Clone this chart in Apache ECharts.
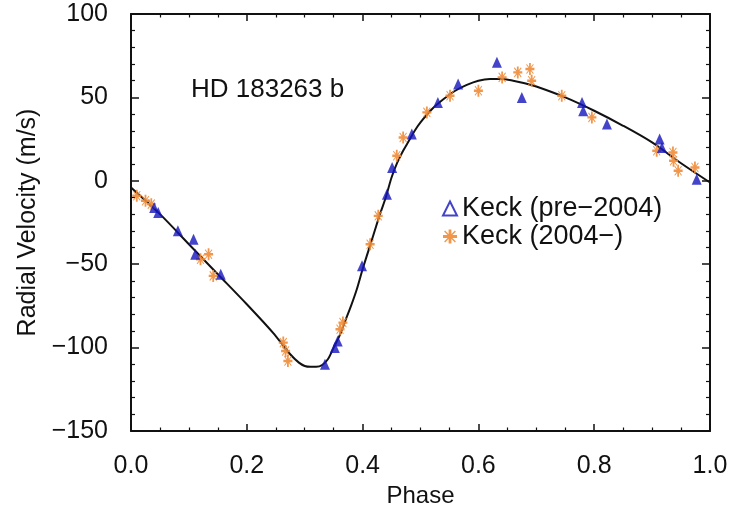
<!DOCTYPE html>
<html>
<head>
<meta charset="utf-8">
<script src="https://cdn.jsdelivr.net/npm/echarts@6/dist/echarts.min.js"></script>
<style>
  html, body { margin: 0; padding: 0; background: #fff; }
  #chart { width: 733px; height: 509px; }
</style>
</head>
<body>
<div id="chart"></div>
<script>
// Radial velocity of HD 183263 folded on the orbital period
const planetName = 'HD 183263 b';
const seriesPre = 'Keck (pre\u22122004)';
const seriesPost = 'Keck (2004\u2212)';

// Keck data before 2004: [phase, velocity m/s]
const keckPre = [
  [0.040, -16], [0.047, -19], [0.081, -30], [0.108, -35], [0.111, -44], [0.155, -56],
  [0.335, -110], [0.352, -100], [0.357, -96], [0.399, -51], [0.442, -8], [0.451, 8],
  [0.485, 28], [0.530, 47], [0.565, 58], [0.632, 71], [0.675, 50],
  [0.779, 47], [0.781, 42], [0.822, 34], [0.913, 25], [0.917, 20], [0.977, 1]
];

// Keck data from 2004 on: [phase, velocity m/s]
const keckPost = [
  [0.010, -9], [0.025, -12], [0.035, -14], [0.120, -47], [0.134, -44], [0.142, -57],
  [0.263, -97], [0.267, -102], [0.271, -108], [0.361, -89], [0.366, -85],
  [0.413, -38], [0.427, -21], [0.459, 15], [0.470, 26], [0.511, 41], [0.551, 51],
  [0.600, 54], [0.641, 62], [0.668, 65], [0.689, 67], [0.692, 60],
  [0.744, 51], [0.796, 38], [0.908, 18], [0.936, 17], [0.937, 12], [0.945, 6], [0.974, 8]
];

// Orbit fit curve: [phase, velocity m/s]
const fitCurve = [
  [0.00, -4], [0.05, -20], [0.10, -38], [0.15, -56], [0.20, -74], [0.245, -91],
  [0.275, -104], [0.29, -109], [0.30, -111], [0.31, -111.5], [0.32, -111.5],
  [0.33, -110.5], [0.34, -107], [0.35, -100], [0.36, -93], [0.37, -84], [0.38, -75],
  [0.39, -65], [0.40, -53], [0.41, -42], [0.42, -31], [0.43, -20], [0.44, -10],
  [0.45, 2], [0.46, 11], [0.47, 18], [0.48, 24], [0.49, 30], [0.50, 35], [0.52, 43],
  [0.54, 49], [0.56, 54], [0.58, 57.5], [0.60, 60], [0.62, 61], [0.64, 61],
  [0.66, 60], [0.68, 58.5], [0.70, 56.5], [0.75, 50], [0.80, 42], [0.85, 33],
  [0.90, 23], [0.95, 10.5], [1.00, -1]
];

// Axis ticks
const xTicks = [0, 0.2, 0.4, 0.6, 0.8, 1.0];
const yTicks = [-150, -100, -50, 0, 50, 100];

const blue = '#1515bd';
const orange = '#f08c38';
const fontFam = '"Liberation Sans", Arial, Helvetica, sans-serif';

// filled eight-spoke asterisk
const asteriskPath = 'path://M4,0L6,0L6,10L4,10Z M0,4L10,4L10,6L0,6Z ' +
  'M1.5,0.8L9.2,8.5L8.5,9.2L0.8,1.5Z M8.5,0.8L9.2,1.5L1.5,9.2L0.8,8.5Z';

const chart = echarts.init(document.getElementById('chart'), null, { renderer: 'canvas' });

const axisLine = { show: true, onZero: false, lineStyle: { color: '#111', width: 2 } };
const minus = s => String(s).replace('-', '\u2212');

const xBase = {
  type: 'value', min: xTicks[0], max: xTicks[xTicks.length - 1],
  interval: xTicks[1] - xTicks[0], splitLine: { show: false },
  axisLine: axisLine,
  axisTick: { show: true, inside: true, length: 7, lineStyle: { color: '#111', width: 1.5 } },
  minorTick: { show: true, splitNumber: 4, length: 3.5, lineStyle: { color: '#111', width: 1.2 } }
};
const yBase = {
  type: 'value', min: yTicks[0], max: yTicks[yTicks.length - 1],
  interval: yTicks[1] - yTicks[0], splitLine: { show: false },
  axisLine: axisLine,
  axisTick: { show: true, inside: true, length: 8, lineStyle: { color: '#111', width: 1.5 } },
  minorTick: { show: true, splitNumber: 5, length: 4, lineStyle: { color: '#111', width: 1.2 } }
};

chart.setOption({
  animation: false,
  backgroundColor: '#fff',
  title: {
    text: planetName, left: 186, top: 72,
    textStyle: { fontFamily: fontFam, fontSize: 26, fontWeight: 'normal', color: '#111' }
  },
  legend: {
    orient: 'vertical', left: 437, top: 190, itemGap: 1, itemWidth: 14, itemHeight: 14,
    textStyle: { fontFamily: fontFam, fontSize: 27, color: '#111', padding: [0, 0, 0, 0] },
    data: [
      { name: seriesPre, icon: 'triangle',
        itemStyle: { color: 'rgba(0,0,0,0)', borderColor: blue, borderWidth: 2 } },
      { name: seriesPost, icon: asteriskPath, itemStyle: { color: orange } }
    ]
  },
  grid: { left: 131, right: 23, top: 14, bottom: 78, containLabel: false, outerBoundsMode: 'none' },
  xAxis: [
    Object.assign({}, xBase, {
      position: 'bottom',
      name: 'Phase', nameLocation: 'middle', nameGap: 52,
      nameTextStyle: { fontFamily: fontFam, fontSize: 24, color: '#111' },
      axisLabel: { margin: 23, fontFamily: fontFam, fontSize: 25, color: '#111',
        formatter: v => v.toFixed(1) }
    }),
    Object.assign({}, xBase, { position: 'top', axisLabel: { show: false } })
  ],
  yAxis: [
    Object.assign({}, yBase, {
      position: 'left',
      name: 'Radial Velocity (m/s)', nameLocation: 'middle', nameGap: 89,
      nameTextStyle: { fontFamily: fontFam, fontSize: 25, color: '#111' },
      axisLabel: { margin: 23, fontFamily: fontFam, fontSize: 25, color: '#111',
        formatter: v => minus(v) }
    }),
    Object.assign({}, yBase, { position: 'right', axisLabel: { show: false } })
  ],
  series: [
    {
      name: 'fit', type: 'line', data: fitCurve, smooth: 0.3, showSymbol: false,
      lineStyle: { color: '#111', width: 2 }, z: 3, silent: true
    },
    {
      name: seriesPost, type: 'scatter', data: keckPost, symbol: asteriskPath,
      symbolSize: [9, 12], itemStyle: { color: orange, opacity: 0.9 }, z: 4
    },
    {
      name: seriesPre, type: 'scatter', data: keckPre, symbol: 'triangle',
      symbolSize: [10, 11], itemStyle: { color: blue }, z: 5
    }
  ]
});
</script>
</body>
</html>
